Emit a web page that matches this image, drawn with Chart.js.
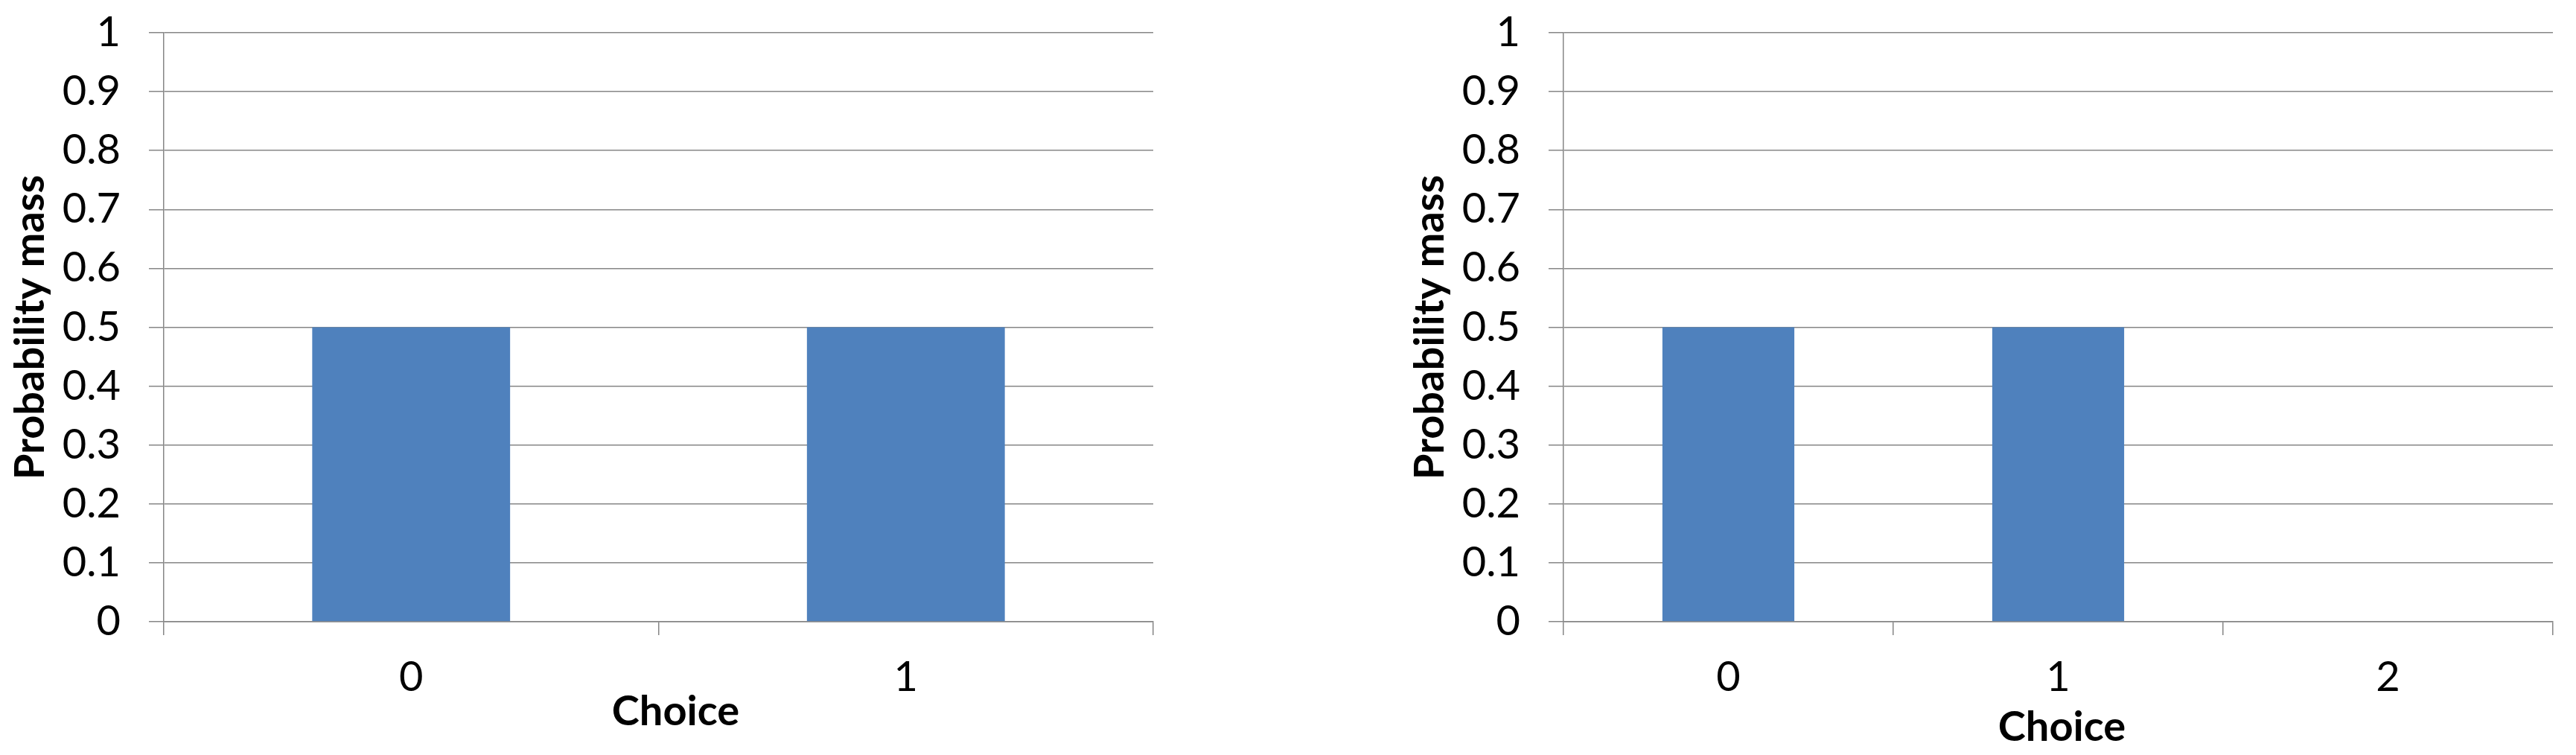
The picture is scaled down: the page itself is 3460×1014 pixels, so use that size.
<!DOCTYPE html>
<html><head><meta charset="utf-8">
<script src="https://cdn.jsdelivr.net/npm/chart.js@4.4.1/dist/chart.umd.min.js"></script>
<style>
html,body{margin:0;padding:0;background:#fff;width:3460px;height:1014px;overflow:hidden}
canvas{position:absolute;top:0}
#c1{left:0}
#c2{left:1880px}
</style></head>
<body>
<canvas id="c1" width="1560" height="1014"></canvas>
<canvas id="c2" width="1560" height="1014"></canvas>
<script>
const leftCategories = ["0", "1"];
const leftValues = [0.5, 0.5];
const rightCategories = ["0", "1", "2"];
const rightValues = [0.5, 0.5, 0];
const yTickLabels = ["0", "0.1", "0.2", "0.3", "0.4", "0.5", "0.6", "0.7", "0.8", "0.9", "1"];
const xTitleText = "Choice";
const yTitleText = "Probability mass";

Chart.defaults.font.family = "Lato, 'Open Sans', sans-serif";
Chart.defaults.color = "#000";
const GRID = "#868686";
const BAR = "#4F81BD";

function makeChart(id, cats, vals, xTitlePadBottom, xTitleShift) {
  const shiftTitle = {
    id: "shiftTitle",
    afterLayout(chart) {
      const sx = chart.scales.x;
      if (sx._patched) return;
      const orig = sx.drawTitle;
      sx.drawTitle = function () {
        const ctx = this.ctx;
        ctx.save();
        ctx.translate(xTitleShift, 0);
        orig.apply(this, arguments);
        ctx.restore();
      };
      sx._patched = true;
    }
  };
  return new Chart(document.getElementById(id), {
    type: "bar",
    data: {
      labels: cats,
      datasets: [{
        data: vals,
        backgroundColor: BAR,
        borderWidth: 0,
        categoryPercentage: 1.0,
        barPercentage: 0.4
      }]
    },
    plugins: [shiftTitle],
    options: {
      responsive: false,
      animation: false,
      layout: { padding: { top: 44, right: 11, bottom: 0, left: 0 } },
      plugins: { legend: { display: false }, tooltip: { enabled: false } },
      scales: {
        x: {
          offset: true,
          grid: { display: true, offset: true, drawOnChartArea: false, drawTicks: true, tickLength: 18, color: GRID, lineWidth: 1.5 },
          border: { display: true, color: GRID, width: 1.5 },
          ticks: { font: { size: 56 }, padding: 23, maxRotation: 0, color: "#000" },
          title: { display: true, text: xTitleText, font: { size: 56, weight: "bold" }, padding: { top: 0, bottom: xTitlePadBottom }, color: "#000" },
          afterFit: (s) => { s.height = 179; }
        },
        y: {
          min: 0, max: 1,
          ticks: { stepSize: 0.1, font: { size: 56, lineHeight: 0.2 }, padding: 38, color: "#000",
                   callback: (v, i) => yTickLabels[i] },
          grid: { color: GRID, lineWidth: 1.5, drawTicks: true, tickLength: 20 },
          border: { display: true, color: GRID, width: 1.5 },
          title: { display: true, text: yTitleText, font: { size: 56, weight: "bold" }, padding: { top: 7, bottom: 0 }, color: "#000" },
          afterFit: (s) => { s.width = 220; }
        }
      }
    }
  });
}

makeChart("c1", leftCategories, leftValues, 24, 23);
makeChart("c2", rightCategories, rightValues, 3, 5);
</script>
</body></html>
